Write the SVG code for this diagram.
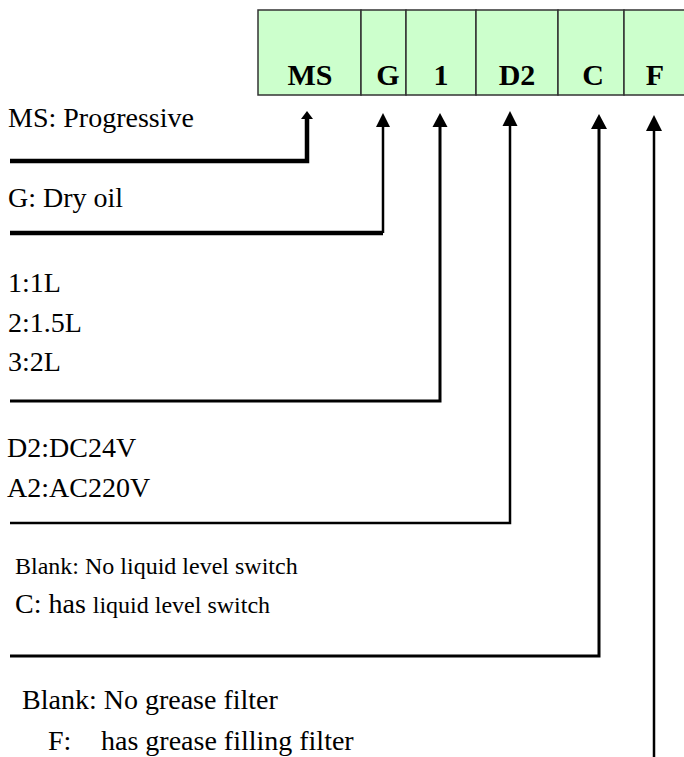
<svg xmlns="http://www.w3.org/2000/svg" width="684" height="757" viewBox="0 0 684 757">
<style>
.t{font-family:"Liberation Serif","DejaVu Serif","Times New Roman",serif;font-size:28px;fill:#000}
.s{font-size:24px}
.b{font-family:"Liberation Serif","DejaVu Serif","Times New Roman",serif;font-size:30px;font-weight:bold;fill:#000;text-anchor:middle}
.cell{fill:#CCFFCC;stroke:#333;stroke-width:1.5}
.ln{fill:none;stroke:#000;stroke-linejoin:miter}
</style>
<g id="code-box">
<rect class="cell" x="258" y="10" width="103" height="85"/>
<rect class="cell" x="361" y="10" width="45" height="85"/>
<rect class="cell" x="406" y="10" width="70" height="85"/>
<rect class="cell" x="476" y="10" width="82" height="85"/>
<rect class="cell" x="558" y="10" width="66" height="85"/>
<rect class="cell" x="624" y="10" width="64" height="85"/>
<text class="b" x="310" y="85">MS</text>
<text class="b" x="388" y="85">G</text>
<text class="b" x="441" y="85">1</text>
<text class="b" x="517" y="85">D2</text>
<text class="b" x="593" y="85">C</text>
<text class="b" x="655" y="85">F</text>
</g>
<g id="connectors">
<polyline class="ln" stroke-width="4.5" points="10,161 307,161 307,117"/>
<polygon points="301,119 313,119 307,111"/>
<polyline class="ln" stroke-width="4.5" points="10,233 383,233"/>
<line class="ln" stroke-width="2.5" x1="383" y1="233" x2="383" y2="125"/>
<polygon points="376,127 390,127 383,113"/>
<polyline class="ln" stroke-width="3" points="10,401 440,401 440,125"/>
<polygon points="432.5,127 447.5,127 440,113"/>
<polyline class="ln" stroke-width="2.5" points="10,523 510,523 510,123"/>
<polygon points="502.5,126 517.5,126 510,111"/>
<polyline class="ln" stroke-width="3" points="10,656 599,656 599,126"/>
<polygon points="591,129 607,129 599,114"/>
<line class="ln" stroke-width="2.5" x1="654" y1="757" x2="654" y2="128"/>
<polygon points="646,131 662,131 654,115"/>
</g>
<g id="label-ms"><text class="t" x="8" y="127">MS: Progressive</text></g>
<g id="label-g"><text class="t" x="8" y="207">G: Dry oil</text></g>
<g id="label-1">
<text class="t" x="8" y="292">1:1L</text>
<text class="t" x="8" y="332">2:1.5L</text>
<text class="t" x="8" y="371">3:2L</text>
</g>
<g id="label-d2">
<text class="t" x="7" y="457">D2:DC24V</text>
<text class="t" x="7" y="497">A2:AC220V</text>
</g>
<g id="label-c">
<text class="t s" x="15" y="574">Blank: No liquid level switch</text>
<text class="t" x="15" y="613">C: has <tspan class="s">liquid level switch</tspan></text>
</g>
<g id="label-f">
<text class="t" x="22" y="709">Blank: No grease filter</text>
<text class="t" x="48" y="750">F:</text>
<text class="t" x="101" y="750">has grease filling filter</text>
</g>
</svg>
